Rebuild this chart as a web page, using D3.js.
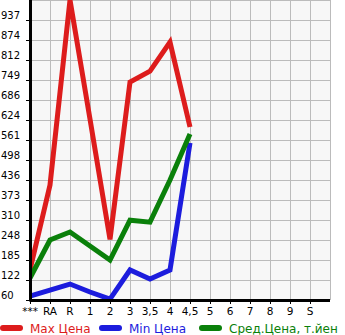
<!DOCTYPE html>
<html><head><meta charset="utf-8">
<script src="https://cdn.jsdelivr.net/npm/d3@7"></script>
<style>body{margin:0;background:#fff}svg{display:block}</style>
</head><body>
<svg id="c" width="345" height="335"></svg>
<script>
const categories = ["***","RA","R","1","2","3","3,5","4","4,5","5","6","7","8","9","S"];
const yTicks = [60,122,185,248,310,373,436,498,561,624,686,749,812,874,937];
const maxPrice = [154,420,1000,627,250,743,777,868,602,null,null,null,null,null,null];
const minPrice = [72,91,110,85,63,154,126,154,552,null,null,null,null,null,null];
const avgPrice = [129,248,273,229,185,310,304,436,580,null,null,null,null,null,null];
const seriesNames = ["Max Цена","Min Цена","Сред.Цена, т.йен"];
const colors = ["#dd1c1c","#1c1cdd","#0a800a"];

const svg = d3.select("#c");
const L=30, R=330, T=0, B=300;
const x = d3.scaleLinear().domain([0,categories.length]).range([L,R]);
const y = d3.scaleLinear().domain([60,1000]).range([B,T]);

svg.append("rect").attr("x",L).attr("y",T).attr("width",R-L).attr("height",B-T).attr("fill","#f7f7f7");
const g = svg.append("g").attr("stroke","#bbbbbb").attr("stroke-width",1);
d3.range(1,categories.length+1).forEach(i=>{
  g.append("line").attr("x1",x(i)+0.5).attr("x2",x(i)+0.5).attr("y1",T).attr("y2",B);
});
yTicks.concat([1000]).forEach(v=>{
  const yy=Math.round(y(v))+0.5;
  g.append("line").attr("x1",L).attr("x2",R).attr("y1",yy).attr("y2",yy);
});

svg.append("defs").append("clipPath").attr("id","clip").append("rect")
  .attr("x",L).attr("y",T).attr("width",R-L).attr("height",B-T);

const line = d3.line().defined(d=>d!=null).x((d,i)=>x(i)).y(d=>y(d));
[maxPrice,minPrice,avgPrice].forEach((s,k)=>{
  svg.append("path").datum(s).attr("d",line).attr("fill","none")
    .attr("stroke",colors[k]).attr("stroke-width",5).attr("stroke-linejoin","miter")
    .attr("clip-path","url(#clip)");
});

// axes
svg.append("line").attr("x1",L+0.5).attr("x2",L+0.5).attr("y1",T).attr("y2",B+1.5).attr("stroke","#000").attr("stroke-width",3);
svg.append("line").attr("x1",L).attr("x2",R).attr("y1",B+0.5).attr("y2",B+0.5).attr("stroke","#000").attr("stroke-width",3);
yTicks.forEach(v=>{
  const yy=Math.round(y(v))+0.5;
  svg.append("line").attr("x1",L-4).attr("x2",L).attr("y1",yy).attr("y2",yy).attr("stroke","#000").attr("stroke-width",1);
  svg.append("text").attr("x",1).attr("y",yy-1.5).text(v)
    .attr("font-family","DejaVu Sans").attr("font-size",10).attr("fill","#000");
});
categories.forEach((c,i)=>{
  svg.append("line").attr("x1",x(i)+0.5).attr("x2",x(i)+0.5).attr("y1",B).attr("y2",B+4).attr("stroke","#000");
  svg.append("text").attr("x",x(i)).attr("y",315).attr("text-anchor","middle").text(c)
    .attr("font-family","DejaVu Sans").attr("font-size",10.5).attr("fill","#000");
});

// legend
const legX=[0,99,199];
seriesNames.forEach((n,k)=>{
  svg.append("line").attr("x1",legX[k]+3).attr("x2",legX[k]+20).attr("y1",328).attr("y2",328)
    .attr("stroke",colors[k]).attr("stroke-width",6).attr("stroke-linecap","round");
  svg.append("text").attr("x",legX[k]+30).attr("y",333).text(n)
    .attr("font-family","DejaVu Sans").attr("font-size",12).attr("fill",colors[k]);
});
</script>
</body></html>
